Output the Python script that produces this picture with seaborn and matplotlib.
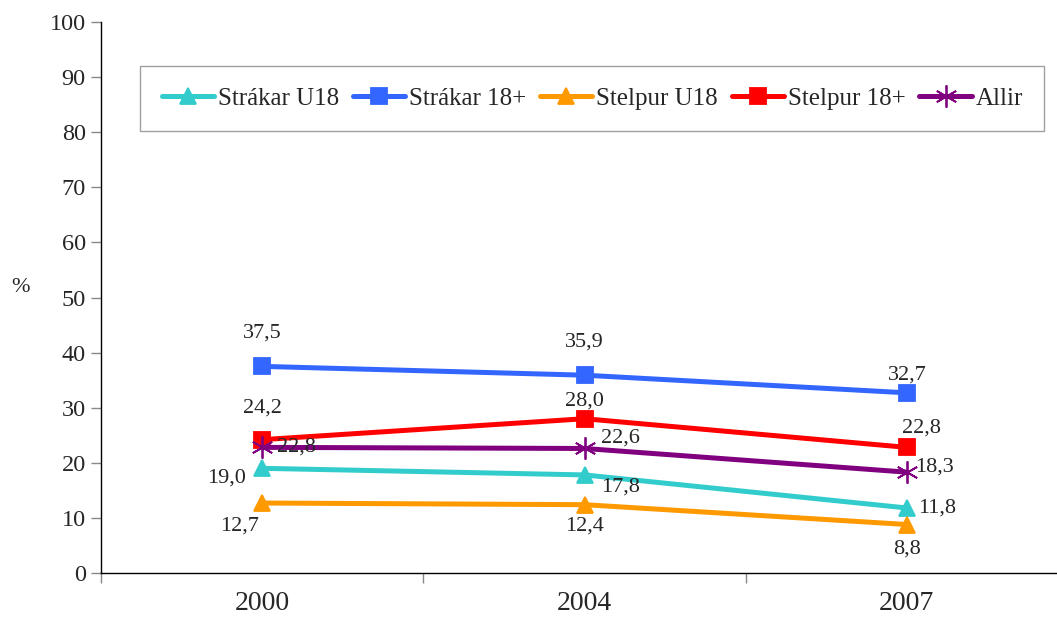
import pandas as pd
import matplotlib.pyplot as plt
import seaborn as sns

# data
years = ["2000", "2004", "2007"]
series = ["Strákar U18", "Strákar 18+", "Stelpur U18", "Stelpur 18+", "Allir"]
strakar_u18 = [19.0, 17.8, 11.8]
strakar_18 = [37.5, 35.9, 32.7]
stelpur_u18 = [12.7, 12.4, 8.8]
stelpur_18 = [24.2, 28.0, 22.8]
allir = [22.8, 22.6, 18.3]

colors = ["#33CCCC", "#3366FF", "#FF9900", "#FF0000", "#800080"]
markers = ["^", "s", "^", "s", (6, 2, 0)]
msizes = [12, 11, 12, 11, 16]

# label offsets in pixels (dx, dy) for each point
offsets = [
    [(-36, -10), (36, -12), (30, 0)],
    [(0, 33), (0, 33), (0, 18)],
    [(-23, -23), (0, -21), (0, -25)],
    [(0, 32), (0, 18), (15, 19)],
    [(34, 0), (36, 10), (28, 5)],
]

values = [strakar_u18, strakar_18, stelpur_u18, stelpur_18, allir]

sns.set_style("white")
plt.rcParams["font.family"] = ["Liberation Serif", "DejaVu Serif"]

fig = plt.figure(figsize=(10.57, 6.27), dpi=100)
ax = fig.add_axes([101 / 1057, 54 / 627, 967 / 1057, 551 / 627])

for name, vals, c, m, ms in zip(series, values, colors, markers, msizes):
    d = pd.DataFrame({"year": years, "value": vals})
    sns.lineplot(data=d, x="year", y="value", color=c, marker=m, label=name,
                 linewidth=3.6, markersize=ms, markeredgewidth=1.3,
                 markeredgecolor=c, ax=ax, sort=False)

for i, vals in enumerate(values):
    for j, v in enumerate(vals):
        ax.annotate(f"{v:.1f}".replace(".", ","), (j, v),
                    xytext=offsets[i][j], textcoords="offset pixels",
                    ha="center", va="center", fontsize=16)

ax.set_xlim(-0.5, 2.5)
ax.set_ylim(0, 100)
ax.set_yticks(range(0, 101, 10))
ax.tick_params(axis="y", labelsize=17.5, length=7, width=1, direction="out", left=True,
               pad=4, color="#888888")
ax.tick_params(axis="x", which="major", labelsize=20, length=0, pad=13)
ax.set_xticks([-0.5, 0.5, 1.5, 2.5], minor=True)
ax.tick_params(axis="x", which="minor", length=7, width=1, direction="out", bottom=True,
               color="#888888")
ax.set_xlabel("")
ax.set_ylabel("%", rotation=0, fontsize=16, labelpad=0)
ax.yaxis.set_label_coords(-0.083, 0.5)
for side in ["top", "right"]:
    ax.spines[side].set_visible(False)
for side in ["left", "bottom"]:
    ax.spines[side].set_color("black")
    ax.spines[side].set_linewidth(1)

handles, labels = ax.get_legend_handles_labels()
leg = ax.legend(handles, labels, ncol=5, loc="center",
                bbox_to_anchor=(0.508, 0.861),
                fontsize=18, frameon=True, fancybox=False, handlelength=2.1,
                handletextpad=0.15, columnspacing=0.55,
                borderpad=0.85, borderaxespad=0)
leg.get_frame().set_edgecolor("#888888")
leg.get_frame().set_linewidth(1)

fig.savefig("out.png", dpi=100)
